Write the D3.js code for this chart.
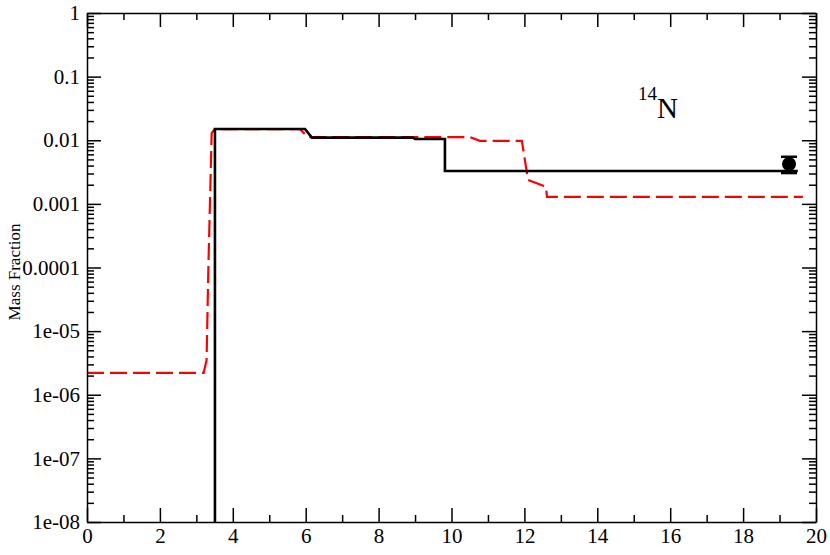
<!DOCTYPE html>
<html>
<head>
<meta charset="utf-8">
<script src="https://cdn.jsdelivr.net/npm/d3@7"></script>
</head>
<body style="margin:0">
<div id="chart-area"></div>
<script>
// model (solid black) - step profile
var blackX = [3.51, 3.51, 5.98, 6.17, 8.94, 9.0, 9.82, 9.82, 19.5];
var blackY = [1e-8, 0.0150, 0.0150, 0.0110, 0.0110, 0.01045, 0.01045, 0.00328, 0.00328];

// model (dashed red)
var redX = [0, 3.2, 3.28, 3.33, 3.42, 3.5, 5.84, 6.06, 10.51, 10.78, 11.93, 12.1, 12.59, 12.62, 19.64];
var redY = [2.2e-6, 2.2e-6, 3.5e-6, 1e-4, 0.013, 0.015, 0.015, 0.0112, 0.0112, 0.0098, 0.0098, 0.00237, 0.00186, 0.00129, 0.00129];

// observed point with error bar
var obsX = [19.26];
var obsY = [0.00423];
var obsLo = [0.00305];
var obsHi = [0.0055];

var xTicks = [0, 2, 4, 6, 8, 10, 12, 14, 16, 18, 20];
var yTicks = [1, 0.1, 0.01, 0.001, 0.0001, 1e-5, 1e-6, 1e-7, 1e-8];
var yTickLabels = ["1", "0.1", "0.01", "0.001", "0.0001", "1e-05", "1e-06", "1e-07", "1e-08"];

var serif = "Liberation Serif";
var margin = { left: 87, right: 14, top: 13, bottom: 33 };
var W = 830, H = 555;
var width = W - margin.left - margin.right;
var height = H - margin.top - margin.bottom;

var svg = d3.select("#chart-area").append("svg")
  .attr("width", W).attr("height", H)
  .style("display", "block");

var g = svg.append("g")
  .attr("transform", "translate(" + margin.left + "," + margin.top + ")");

var xscale = d3.scaleLinear().domain([0, 20]).range([0, width]);
var yscale = d3.scaleLog().domain([1e-8, 1]).range([height, 0]);

// minor ticks
var xMinor = d3.range(1, 20, 2);
var yMinor = [];
for (var e = -8; e < 0; e++) {
  for (var k = 2; k <= 9; k++) yMinor.push(k * Math.pow(10, e));
}

// major axis: labels kept where asked
function major(axis, tx, ty, labels) {
  var a = g.append("g")
    .attr("transform", "translate(" + tx + "," + ty + ")")
    .call(axis.tickSize(-14).tickSizeOuter(0))
    .attr("font-family", serif).attr("font-size", 21).attr("stroke-width", 1.5);
  if (!labels) a.selectAll("text").remove();
  return a;
}
// minor axis: ticks only
function minor(axis, tx, ty) {
  var a = g.append("g")
    .attr("transform", "translate(" + tx + "," + ty + ")")
    .call(axis.tickSize(-7).tickSizeOuter(0))
    .attr("stroke-width", 1.5);
  a.selectAll("text").remove();
  a.select(".domain").remove();
  return a;
}

var line = d3.line()
  .x(function (d) { return xscale(d[0]); })
  .y(function (d) { return yscale(d[1]); });

g.append("path")
  .datum(redX.map(function (x, i) { return [x, redY[i]]; }))
  .attr("d", line)
  .attr("fill", "none")
  .attr("stroke", "#ff0000")
  .attr("stroke-width", 2.2)
  .attr("stroke-dasharray", "17,6");

g.append("path")
  .datum(blackX.map(function (x, i) { return [x, blackY[i]]; }))
  .attr("d", line)
  .attr("fill", "none")
  .attr("stroke", "#000")
  .attr("stroke-width", 2.6);

// observation with error bar
obsX.forEach(function (x, i) {
  var cx = xscale(x);
  g.append("line")
    .attr("x1", cx).attr("x2", cx)
    .attr("y1", yscale(obsLo[i])).attr("y2", yscale(obsHi[i]))
    .attr("stroke", "#000").attr("stroke-width", 2);
  [obsLo[i], obsHi[i]].forEach(function (v) {
    g.append("line")
      .attr("x1", cx - 8).attr("x2", cx + 8)
      .attr("y1", yscale(v)).attr("y2", yscale(v))
      .attr("stroke", "#000").attr("stroke-width", 2.5);
  });
  g.append("circle")
    .attr("cx", cx).attr("cy", yscale(obsY[i]))
    .attr("r", 7).attr("fill", "#000");
});

// axes
major(d3.axisBottom(xscale).tickValues(xTicks).tickPadding(6).tickFormat(d3.format("d")), 0, height, true);
minor(d3.axisBottom(xscale).tickValues(xMinor), 0, height);
major(d3.axisTop(xscale).tickValues(xTicks), 0, 0, false);
minor(d3.axisTop(xscale).tickValues(xMinor), 0, 0);
major(d3.axisLeft(yscale).tickValues(yTicks).tickPadding(7)
  .tickFormat(function (d, i) { return yTickLabels[i]; }), 0, 0, true);
minor(d3.axisLeft(yscale).tickValues(yMinor), 0, 0);
major(d3.axisRight(yscale).tickValues(yTicks), width, 0, false);
minor(d3.axisRight(yscale).tickValues(yMinor), width, 0);

// y-axis title
g.append("text")
  .attr("transform", "rotate(-90)")
  .attr("x", -259)
  .attr("y", -67)
  .attr("text-anchor", "middle")
  .attr("font-family", serif)
  .attr("font-size", "17px")
  .text("Mass Fraction");

// isotope label
var lbl = g.append("text")
  .attr("x", 551)
  .attr("y", 105)
  .attr("font-family", serif)
  .attr("font-size", "29px");
lbl.append("tspan").attr("font-size", "19px").attr("dy", "-18").text("14");
lbl.append("tspan").attr("dy", "18").text("N");
</script>
</body>
</html>
